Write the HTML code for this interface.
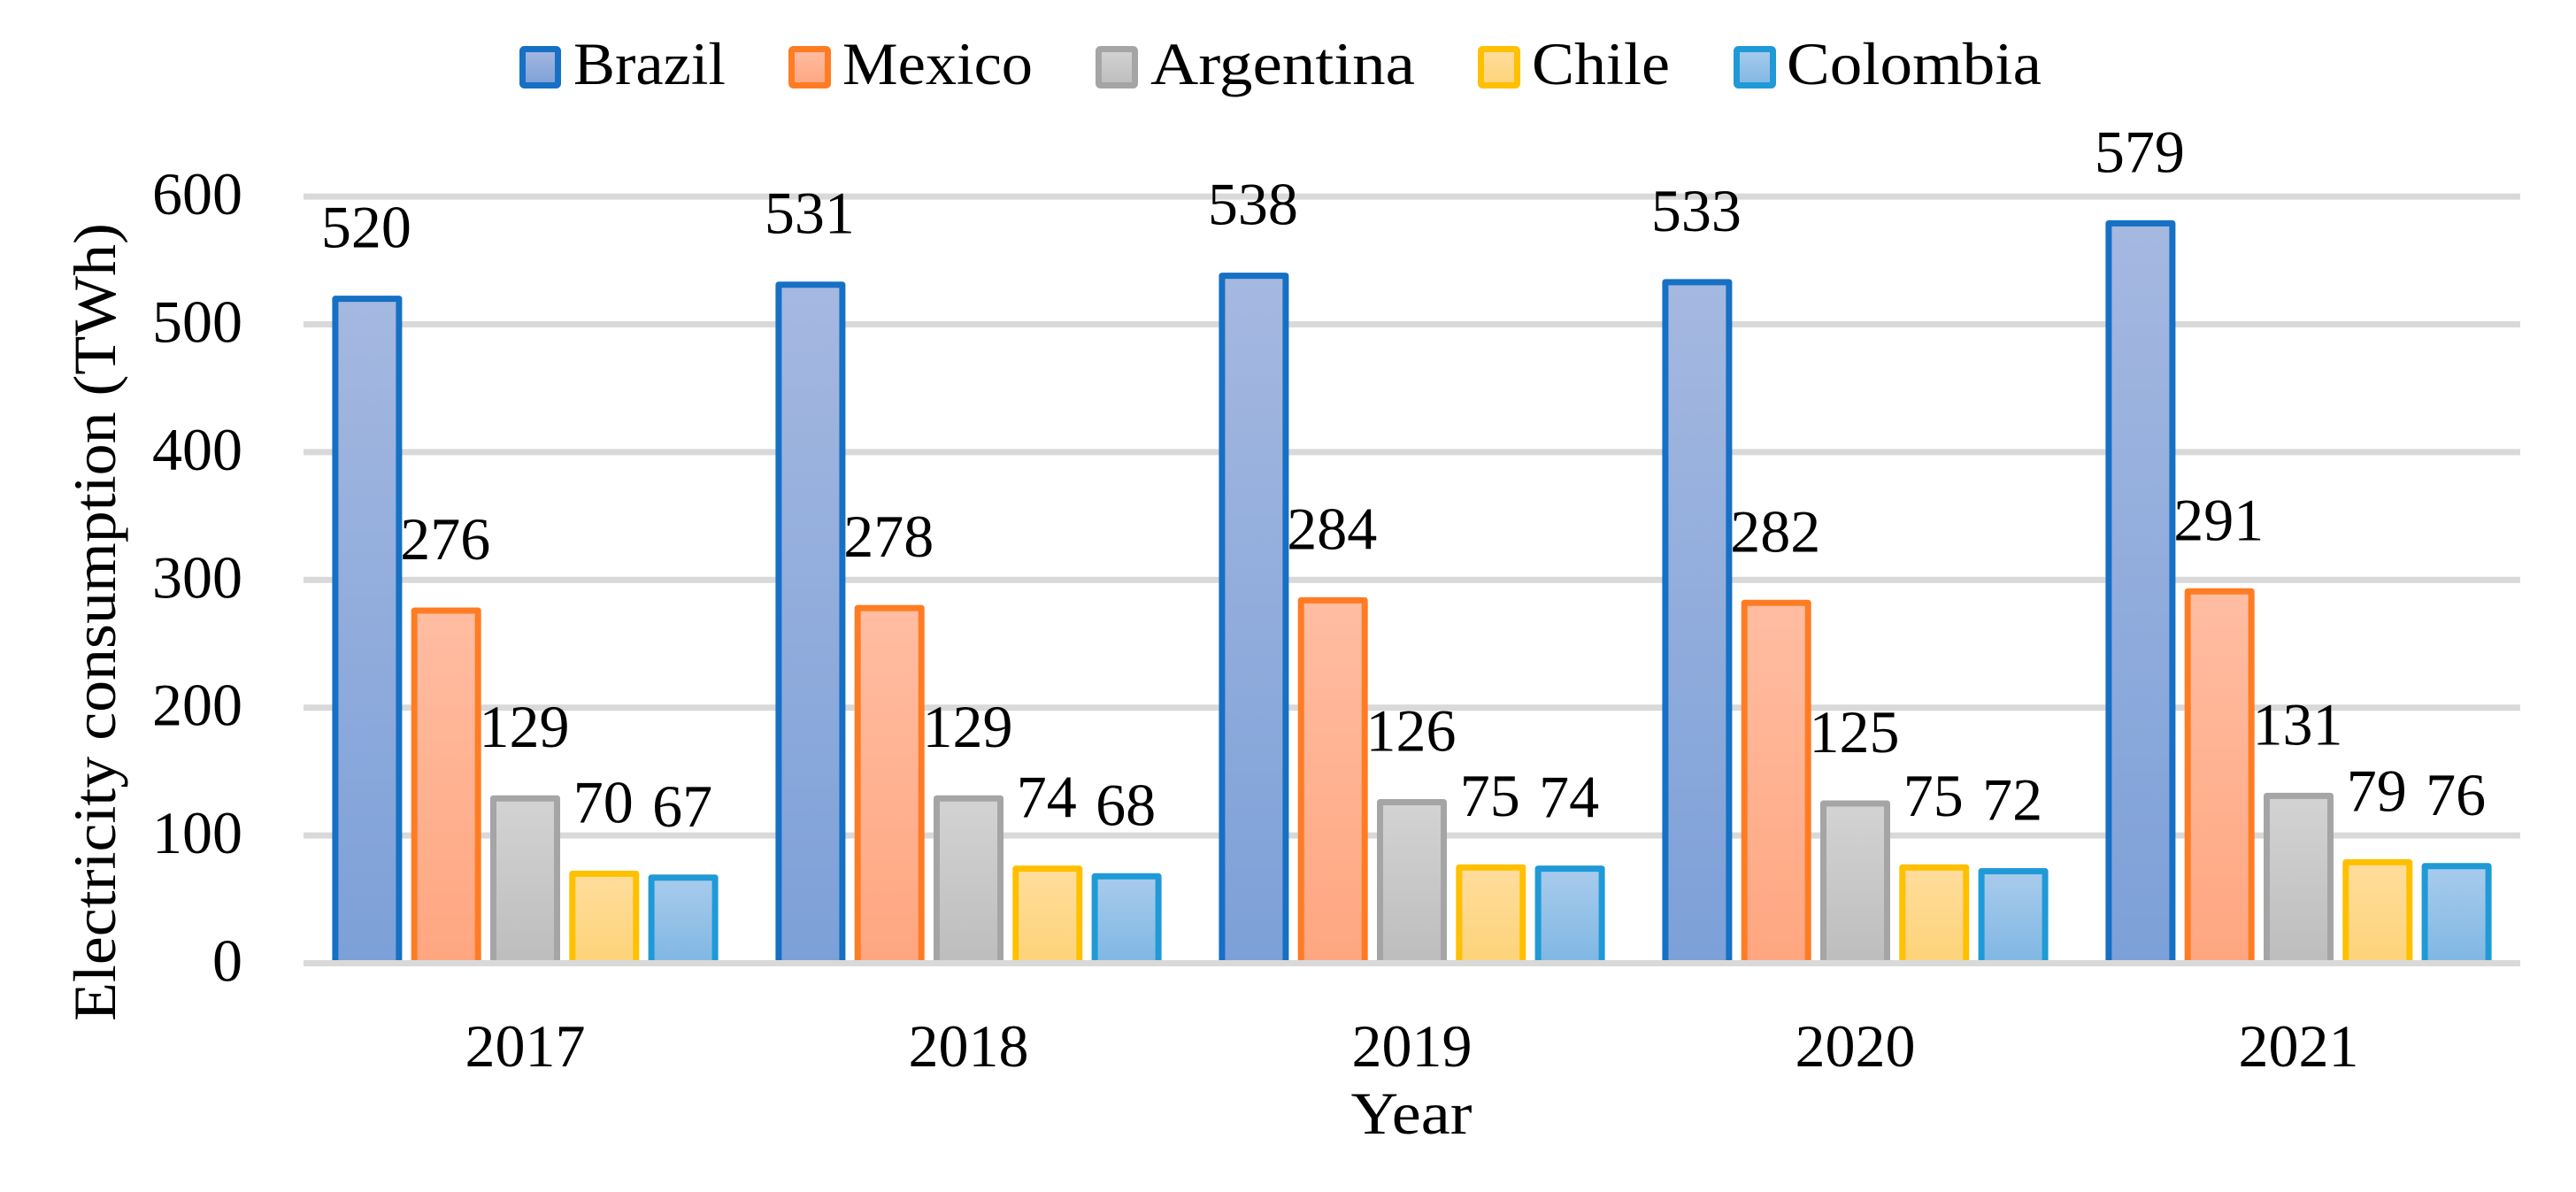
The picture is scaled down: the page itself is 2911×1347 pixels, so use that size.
<!DOCTYPE html>
<html lang="en">
<head>
<meta charset="utf-8">
<title>Electricity consumption by country</title>
<style>
  html, body { margin: 0; padding: 0; background: #ffffff; }
  svg { display: block; }
  text { font-family: "Liberation Serif", serif; font-size: 68px; fill: #000000; }
  .s0 { stroke: #1670c4; fill: url(#grad-0); }
  .s1 { stroke: #ff7c24; fill: url(#grad-1); }
  .s2 { stroke: #a5a5a5; fill: url(#grad-2); }
  .s3 { stroke: #ffc000; fill: url(#grad-3); }
  .s4 { stroke: #1f9ad6; fill: url(#grad-4); }
  .mark { stroke-width: 7; stroke-linejoin: round; }
  .grid { fill: #d9d9d9; }
</style>
</head>
<body>
<svg id="chart" xmlns="http://www.w3.org/2000/svg" width="2911" height="1347" viewBox="0 0 2911 1347">
  <defs>
    <linearGradient id="grad-0" x1="0" y1="0" x2="0" y2="1"><stop offset="0" stop-color="#a5b8e0"/><stop offset="1" stop-color="#7ca0d8"/></linearGradient>
    <linearGradient id="grad-1" x1="0" y1="0" x2="0" y2="1"><stop offset="0" stop-color="#ffbda2"/><stop offset="1" stop-color="#ffa680"/></linearGradient>
    <linearGradient id="grad-2" x1="0" y1="0" x2="0" y2="1"><stop offset="0" stop-color="#d3d3d3"/><stop offset="1" stop-color="#bdbdbd"/></linearGradient>
    <linearGradient id="grad-3" x1="0" y1="0" x2="0" y2="1"><stop offset="0" stop-color="#ffdd9c"/><stop offset="1" stop-color="#fdd379"/></linearGradient>
    <linearGradient id="grad-4" x1="0" y1="0" x2="0" y2="1"><stop offset="0" stop-color="#a9cbec"/><stop offset="1" stop-color="#7fb7e3"/></linearGradient>
  </defs>
  <rect x="0" y="0" width="2911" height="1347" fill="#ffffff"/>

  <g id="grid-layer"></g>
  <g id="bar-layer"></g>
  <g id="axis-layer"></g>
  <g id="label-layer"></g>

  <g>
    <g>
      <rect class="mark s0" x="590.5" y="55.5" width="40" height="41" rx="2"/>
      <text x="648" y="95" textLength="172" lengthAdjust="spacingAndGlyphs">Brazil</text>
    </g>
    <g>
      <rect class="mark s1" x="894.5" y="55.5" width="41" height="41" rx="2"/>
      <text x="952" y="95" textLength="215" lengthAdjust="spacingAndGlyphs">Mexico</text>
    </g>
    <g>
      <rect class="mark s2" x="1241.5" y="55.5" width="41" height="41" rx="2"/>
      <text x="1300" y="95" textLength="299" lengthAdjust="spacingAndGlyphs">Argentina</text>
    </g>
    <g>
      <rect class="mark s3" x="1673.5" y="55.5" width="41" height="41" rx="2"/>
      <text x="1731" y="95" textLength="156" lengthAdjust="spacingAndGlyphs">Chile</text>
    </g>
    <g>
      <rect class="mark s4" x="1962.5" y="55.5" width="41" height="41" rx="2"/>
      <text x="2019" y="95" textLength="288" lengthAdjust="spacingAndGlyphs">Colombia</text>
    </g>
  </g>

  <text x="130" y="703" text-anchor="middle" transform="rotate(-90 130 703)" textLength="902" lengthAdjust="spacingAndGlyphs">Electricity consumption (TWh)</text>
  <text x="1595" y="1281" text-anchor="middle" textLength="137" lengthAdjust="spacingAndGlyphs">Year</text>
</svg>

<script>
const categories = ["2017", "2018", "2019", "2020", "2021"];
const seriesNames = ["Brazil", "Mexico", "Argentina", "Chile", "Colombia"];
const brazil = [520, 531, 538, 533, 579];
const mexico = [276, 278, 284, 282, 291];
const argentina = [129, 129, 126, 125, 131];
const chile = [70, 74, 75, 75, 79];
const colombia = [67, 68, 74, 72, 76];
const yTickLabels = [0, 100, 200, 300, 400, 500, 600];

const allSeries = [brazil, mexico, argentina, chile, colombia];
const SVG_NS = "http://www.w3.org/2000/svg";
const plotLeft = 343;
const plotRight = 2848;
const zeroY = 1088.5;
const pxPerUnit = 1.444;
const barGap = 89.3;
const barWidth = 72;

function yScale(v) {
  return zeroY - v * pxPerUnit;
}
function xBand(i) {
  const band = (plotRight - plotLeft) / categories.length;
  return plotLeft + band * (i + 0.5);
}
function xBar(i, s) {
  return xBand(i) + (s - (allSeries.length - 1) / 2) * barGap;
}
function make(tag, parent) {
  const el = document.createElementNS(SVG_NS, tag);
  parent.appendChild(el);
  return el;
}

const gridLayer = document.getElementById("grid-layer");
const barLayer = document.getElementById("bar-layer");
const axisLayer = document.getElementById("axis-layer");
const labelLayer = document.getElementById("label-layer");

yTickLabels.forEach(function (tick) {
  const parent = tick === 0 ? axisLayer : gridLayer;
  const line = make("rect", parent);
  line.setAttribute("class", "grid");
  line.setAttribute("x", plotLeft);
  line.setAttribute("y", yScale(tick) - 3.5);
  line.setAttribute("width", plotRight - plotLeft);
  line.setAttribute("height", 7);
  
  

  const label = make("text", axisLayer);
  label.setAttribute("x", 274);
  label.setAttribute("y", yScale(tick) + 20);
  label.setAttribute("text-anchor", "end");
  label.textContent = tick;
  
  
});

categories.forEach(function (cat, i) {
  const label = make("text", axisLayer);
  label.setAttribute("x", xBand(i));
  label.setAttribute("y", 1205);
  label.setAttribute("text-anchor", "middle");
  label.textContent = cat;
  
  
});

allSeries.forEach(function (values, s) {
  values.forEach(function (value, i) {
    const cx = xBar(i, s);
    const top = yScale(value);

    const bar = make("rect", barLayer);
    bar.setAttribute("class", "mark s" + s);
    bar.setAttribute("x", cx - barWidth / 2);
    bar.setAttribute("y", top);
    bar.setAttribute("width", barWidth);
    bar.setAttribute("height", zeroY - top);
    
    

    const label = make("text", labelLayer);
    label.setAttribute("x", cx - 1);
    label.setAttribute("y", top - 58);
    label.setAttribute("text-anchor", "middle");
    label.textContent = value;
    
    
  });
});
</script>
</body>
</html>
